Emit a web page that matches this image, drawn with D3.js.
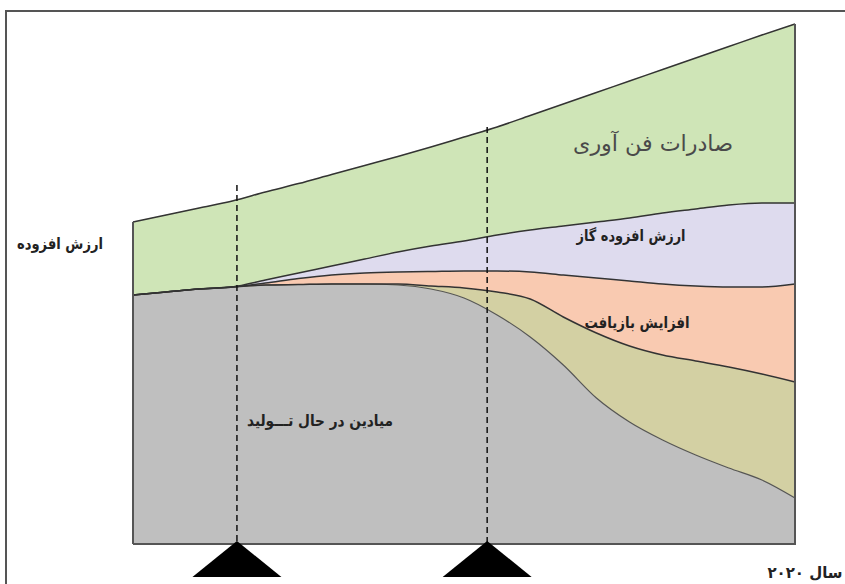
<!DOCTYPE html>
<html><head><meta charset="utf-8">
<script src="https://cdn.jsdelivr.net/npm/d3@7/dist/d3.min.js"></script>
<style>
html,body{margin:0;padding:0;background:#fff;}
svg{display:block;}
text{font-family:"DejaVu Sans","Noto Sans",sans-serif;}
</style></head>
<body>
<svg id="c" width="845" height="584"></svg>
<script>
// ---- data ----
const xs       = [0,5,10,15,20,25,30,35,40,45,50,55,60,65,70,75,80,85,90,95,100];
const fields   = [249,252,255,257,259,259.5,260,260,259,255,246,229,207,179,146,122,104,89,76,64,46];
const recovery2= [0,0,0,0,0,0,0,0,1,3,10,23,38,48,65,76,85,94,101,106,116];
const recovery = [0,0,0,0,2,6,9,11,12,14.5,17,21,27,42,55,65,71,75,80,87,98];
const gasValue = [0,0,0,0,3,5.5,9,14,20,25.5,30,36,42,49,56,63,71,77,82,84,81];
const techExp  = [73,77,81,86,88,89.4,91.5,93.5,95.5,99,104,108,114.5,122,129.5,137,143.5,151,158.5,168,179];
const markers  = [15.7, 53.5];
const markerTop= [359, 417];
const labels = {
  yTitle: "ارزش افزوده",
  xTitle: "سال ۲۰۲۰",
  tech: "صادرات فن آوری",
  gas: "ارزش افزوده گاز",
  rec: "افزایش بازیافت",
  fields: "میادین در حال تـــولید"
};
const keys = ["fields","recovery2","recovery","gasValue","techExp"];
const colors = {fields:"#bfbfbf",recovery2:"#d3d0a3",recovery:"#f9cab1",gasValue:"#dedbee",techExp:"#cfe5b7"};

const table = xs.map((x,i)=>({x, fields:fields[i], recovery2:recovery2[i], recovery:recovery[i], gasValue:gasValue[i], techExp:techExp[i]}));

const svg = d3.select("#c");
const x = d3.scaleLinear().domain([0,100]).range([133,795]);
const y = d3.scaleLinear().domain([0,520]).range([544,24]);

// frame
svg.append("rect").attr("x",6).attr("y",11).attr("width",900).attr("height",700)
  .attr("fill","none").attr("stroke","#555").attr("stroke-width",2);

const stack = d3.stack().keys(keys);
const series = stack(table);
const curve = d3.curveMonotoneX;
const area = d3.area().x(d=>x(d.data.x)).y0(d=>y(d[0])).y1(d=>y(d[1])).curve(curve);
const topLine = d3.line().x(d=>x(d.data.x)).y(d=>y(d[1])).curve(curve);

svg.append("g").selectAll("path").data(series).join("path")
  .attr("d",area).attr("fill",d=>colors[d.key]).attr("stroke",d=>colors[d.key]).attr("stroke-width",0.5);

svg.append("g").selectAll("path").data(series).join("path")
  .attr("d",topLine).attr("fill","none")
  .attr("stroke",d=>d.key==="fields"?"#555":"#333")
  .attr("stroke-width",d=>d.key==="fields"?1.2:1.5);

// plot edges
const last = series[series.length-1];
const g0 = last[0], gN = last[last.length-1];
svg.append("line").attr("x1",x(xs[0])).attr("x2",x(xs[0])).attr("y1",y(g0[1])).attr("y2",y(0)).attr("stroke","#555").attr("stroke-width",2);
svg.append("line").attr("x1",x(xs[xs.length-1])).attr("x2",x(xs[xs.length-1])).attr("y1",y(gN[1])).attr("y2",y(0)).attr("stroke","#555").attr("stroke-width",2);
svg.append("line").attr("x1",x(0)).attr("x2",x(100)+1).attr("y1",y(0)).attr("y2",y(0)).attr("stroke","#555").attr("stroke-width",2);

// markers
markers.forEach((m,i)=>{
  svg.append("line").attr("x1",x(m)).attr("x2",x(m)).attr("y1",y(markerTop[i])).attr("y2",y(0))
    .attr("stroke","#111").attr("stroke-width",1.5).attr("stroke-dasharray","6,4");
  const cx = x(m), top = y(0)-3;
  svg.append("path").attr("d",`M${cx},${top}L${cx+44.5},${top+36}L${cx-44.5},${top+36}Z`).attr("fill","#000");
});

// labels
function lab(t,cx,by,size,weight,fill,len){
  const el = svg.append("text").attr("x",cx).attr("y",by).attr("text-anchor","middle")
    .attr("font-size",size).attr("font-weight",weight).attr("fill",fill).text(t);
  if(len) el.attr("textLength",len).attr("lengthAdjust","spacingAndGlyphs");
}
lab(labels.yTitle,60,249,15.5,"bold","#222",86);
lab(labels.xTitle,805,578,15.5,"bold","#222",75);
lab(labels.tech,653,151,22,"normal","#4a4a4a",160);
lab(labels.gas,631,241,15.5,"bold","#222",109);
lab(labels.rec,637,328,15.5,"bold","#222",105);
lab(labels.fields,320,426,15.5,"bold","#222",146);
</script>
</body></html>
